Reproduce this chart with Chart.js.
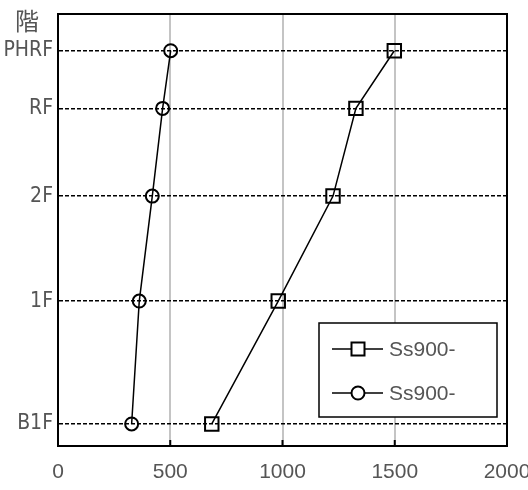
<!DOCTYPE html>
<html>
<head>
<meta charset="utf-8">
<script src="https://cdn.jsdelivr.net/npm/chart.js@4"></script>
<style>
  html, body { margin: 0; padding: 0; background: #fff; }
  #wrap { width: 528px; height: 490px; }
</style>
</head>
<body>
<div id="wrap"><canvas id="chart" width="528" height="490"></canvas></div>
<script>
// 階 (floors), bottom to top
const floors = ["B1F", "1F", "2F", "RF", "PHRF"];
// position of each floor on the vertical axis
const floorLevels = [1.02, 6.71, 11.57, 15.63, 18.3];
const xTicks = [0, 500, 1000, 1500, 2000];

const seriesNames = ["Ss900-", "Ss900-"];
const squareValues = [685, 981, 1225, 1327, 1498];
const circleValues = [328, 362, 420, 466, 502];

const textGray = "#555555";

function toPoints(values) {
  return values.map((v, i) => ({ x: v, y: floorLevels[i] }));
}

// frame on top / right, small inward ticks, y title and legend box
const extras = {
  id: "extras",
  beforeDatasetsDraw(chart) {
    const { ctx, chartArea: a, scales } = chart;
    ctx.save();
    ctx.strokeStyle = "#000";
    ctx.lineWidth = 2;
    ctx.beginPath();
    ctx.moveTo(a.left, a.top);
    ctx.lineTo(a.right, a.top);
    ctx.lineTo(a.right, a.bottom);
    ctx.stroke();
    ctx.beginPath();
    xTicks.slice(1, -1).forEach(v => {
      const px = scales.x.getPixelForValue(v);
      ctx.moveTo(px, a.bottom);
      ctx.lineTo(px, a.bottom - 6);
    });
    ctx.stroke();
    ctx.restore();
  },
  afterDraw(chart) {
    const { ctx } = chart;
    ctx.save();
    ctx.fillStyle = textGray;
    ctx.font = '24px "Noto Sans CJK JP"';
    ctx.textAlign = "center";
    ctx.textBaseline = "middle";
    ctx.fillText("階", 27, 21);

    // legend
    const bx = 319, by = 323, bw = 178, bh = 94;
    ctx.fillStyle = "#fff";
    ctx.fillRect(bx, by, bw, bh);
    ctx.strokeStyle = "#000";
    ctx.lineWidth = 1.5;
    ctx.strokeRect(bx, by, bw, bh);
    const rows = [349, 393];
    chart.data.datasets.forEach((ds, i) => {
      const y = rows[i];
      ctx.strokeStyle = "#000";
      ctx.lineWidth = 1.5;
      ctx.beginPath();
      ctx.moveTo(332, y);
      ctx.lineTo(383, y);
      ctx.stroke();
      ctx.lineWidth = 2;
      ctx.beginPath();
      if (ds.pointStyle === "rect") {
        ctx.rect(351.5, y - 6.5, 13, 13);
      } else {
        ctx.arc(358, y, 6.5, 0, Math.PI * 2);
      }
      ctx.fillStyle = "#fff";
      ctx.fill();
      ctx.stroke();
      ctx.fillStyle = textGray;
      ctx.font = '21px "Liberation Sans"';
      ctx.textAlign = "left";
      ctx.textBaseline = "middle";
      ctx.fillText(ds.label, 389, y + 1);
    });
    ctx.restore();
  }
};

new Chart(document.getElementById("chart"), {
  type: "scatter",
  data: {
    datasets: [
      {
        label: seriesNames[0],
        data: toPoints(squareValues),
        showLine: true,
        borderColor: "#000",
        borderWidth: 1.5,
        pointStyle: "rect",
        pointRadius: 9.5,
        pointBorderWidth: 2,
        pointBackgroundColor: "rgba(0,0,0,0)",
        pointBorderColor: "#000"
      },
      {
        label: seriesNames[1],
        data: toPoints(circleValues),
        showLine: true,
        borderColor: "#000",
        borderWidth: 1.5,
        pointStyle: "circle",
        pointRadius: 6.5,
        pointBorderWidth: 2,
        pointBackgroundColor: "rgba(0,0,0,0)",
        pointBorderColor: "#000"
      }
    ]
  },
  options: {
    responsive: false,
    animation: false,
    layout: { padding: { left: 0, right: 21, top: 14, bottom: 0 } },
    plugins: {
      legend: { display: false },
      tooltip: { enabled: false }
    },
    scales: {
      x: {
        type: "linear",
        min: 0,
        max: 2000,
        afterBuildTicks: s => { s.ticks = xTicks.map(v => ({ value: v })); },
        afterFit: s => { s.height = 44; s.paddingLeft = 0; s.paddingRight = 0; },
        grid: { color: "#c4c4c4", lineWidth: 2, drawTicks: false },
        border: { color: "#000", width: 2 },
        ticks: {
          color: textGray,
          padding: 14,
          maxRotation: 0,
          font: { family: "Liberation Sans", size: 21 },
          callback: v => String(v)
        }
      },
      y: {
        type: "linear",
        min: 0,
        max: 20,
        afterBuildTicks: s => { s.ticks = floorLevels.map(v => ({ value: v })); },
        afterFit: s => { s.width = 58; s.paddingTop = 0; s.paddingBottom = 0; },
        grid: { color: "#000", lineWidth: 1.5, drawTicks: false },
        border: { color: "#000", width: 2, dash: [4, 2] },
        ticks: {
          color: textGray,
          padding: 5,
          font: { family: "'DejaVu Sans Condensed', Roboto, sans-serif", size: 21 },
          callback: v => floors[floorLevels.indexOf(v)]
        }
      }
    }
  },
  plugins: [extras]
});
</script>
</body>
</html>
